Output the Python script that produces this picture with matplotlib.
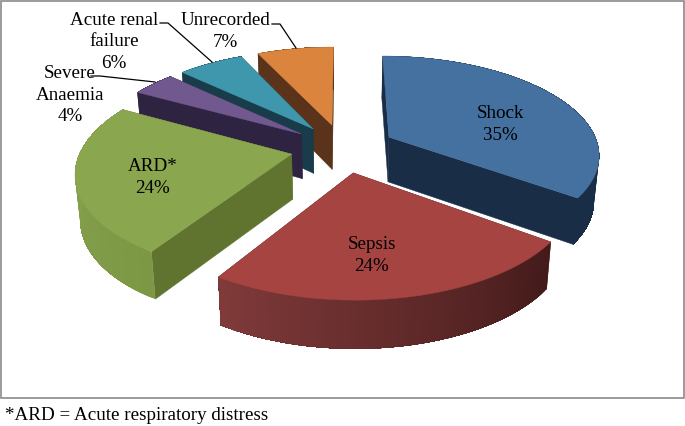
import numpy as np
import matplotlib
matplotlib.use('Agg')
import matplotlib.pyplot as plt
from matplotlib.patches import Polygon, Rectangle
from matplotlib.colors import to_rgb

plt.rcParams['font.family'] = ['Liberation Serif', 'DejaVu Serif']

# data
labels = ['Shock', 'Sepsis', 'ARD*', 'Severe\nAnaemia', 'Acute renal\nfailure', 'Unrecorded']
shares = [35, 24, 24, 4, 6, 7]
footnote = '*ARD = Acute respiratory distress'

# colours per slice: top, radial face, outer side at start and end of the arc
top_colors = ['#44719f', '#a64441', '#8aa64f', '#71588f', '#3f97ae', '#db843d']
face_colors = ['#1a2d47', '#431a1a', '#60732f', '#2e2340', '#183c4a', '#5a331a']
arc_start = ['#1a2d47', '#431a1a', '#7d9845', '#2e2340', '#183c4a', '#5a331a']
arc_end = ['#1a2d47', '#803a3a', '#8aa650', '#2e2340', '#183c4a', '#5a331a']

# label centres in pixels
label_pos = [(500, 124.5), (372, 255.5), (153, 177.5), (70, 95), (114, 42), (225, 31.5)]

# projection of the tilted pie
CX, CY = 343, 148
RX, RY = 210, 97.5
PERSP = 0.162
EXPLODE = 0.25
DEPTH = 45


def project(a, b):
    s = 1 / (1 + PERSP * b)
    return CX + RX * a * s, CY - RY * b * s, s


def drop(x, y, s):
    # bottom edge under a top edge point
    return CX + (x - CX) * 0.98, y + DEPTH * s ** 0.35


def slice_points(t0, t1, n=90):
    mid = np.radians((t0 + t1) / 2)
    ox, oy = EXPLODE * np.sin(mid), EXPLODE * np.cos(mid)
    th = np.radians(np.linspace(t0, t1, n))
    xa, ya, sa = project(ox + np.sin(th), oy + np.cos(th))
    x0, y0, s0 = project(ox, oy)
    return (x0, y0, s0), (xa, ya, sa)


fig = plt.figure(figsize=(6.85, 4.26), dpi=100)
ax = fig.add_axes([0, 0, 1, 1])
ax.set_xlim(0, 685)
ax.set_ylim(426, 0)
ax.axis('off')

ax.add_patch(Rectangle((0.5, 1), 684, 397, fc='white', ec='#8a8a8a', lw=1.2))

edges = np.cumsum([0] + shares) * 3.6

# back slices first
for i in [5, 4, 3, 0, 2, 1]:
    (x0, y0, s0), (xa, ya, sa) = slice_points(edges[i], edges[i + 1])
    bx0, by0 = drop(x0, y0, s0)
    bxa, bya = drop(xa, ya, sa)

    for j in [0, -1]:
        quad = [(x0, y0), (xa[j], ya[j]), (bxa[j], bya[j]), (bx0, by0)]
        ax.add_patch(Polygon(quad, fc=face_colors[i], ec=face_colors[i], lw=0.3, zorder=2))

    # each band runs on to the arc end so no seams show between the bands
    c0, c1 = np.array(to_rgb(arc_start[i])), np.array(to_rgb(arc_end[i]))
    for k in range(len(xa) - 1):
        f = k / (len(xa) - 2)
        col = c0 + (c1 - c0) * f
        band = np.column_stack([np.r_[xa[k:], bxa[k:][::-1]], np.r_[ya[k:], bya[k:][::-1]]])
        ax.add_patch(Polygon(band, fc=col, ec='none', zorder=2))

    top = np.column_stack([np.r_[x0, xa], np.r_[y0, ya]])
    ax.add_patch(Polygon(top, fc=top_colors[i], ec=top_colors[i], lw=0.3, zorder=2))

for name, share, (lx, ly) in zip(labels, shares, label_pos):
    ax.text(lx, ly, '%s\n%d%%' % (name, share), ha='center', va='center',
            fontsize=13.7, color='black', linespacing=1.38, zorder=5)

# leader lines
ax.plot([91, 100, 155], [76, 76, 82], color='black', lw=0.9, zorder=4)
ax.plot([160, 168, 212], [23, 23, 62], color='black', lw=0.9, zorder=4)
ax.plot([272, 280, 296], [24, 24, 48], color='black', lw=0.9, zorder=4)

ax.text(5, 416, footnote, ha='left', va='center', fontsize=13.7, color='black')

fig.savefig('out.png', dpi=100)
